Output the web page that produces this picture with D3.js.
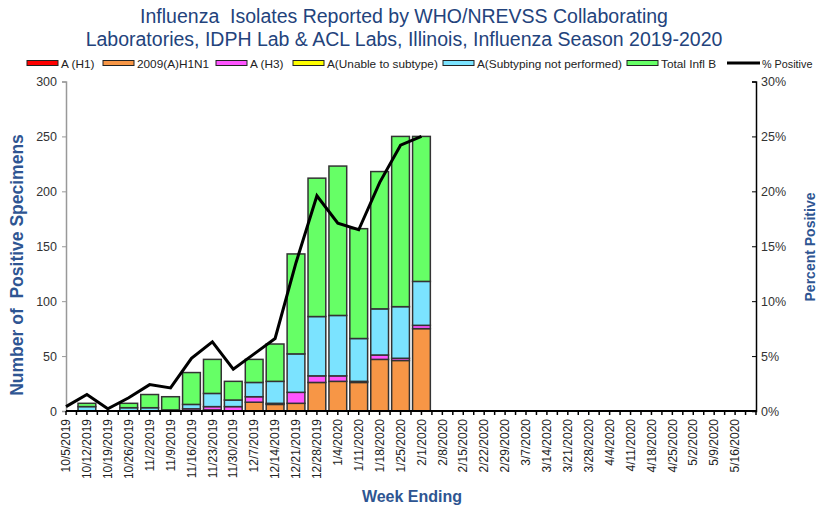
<!DOCTYPE html>
<html><head><meta charset="utf-8">
<script src="https://cdn.jsdelivr.net/npm/d3@7"></script>
<style>body{margin:0;background:#fff}svg{display:block;font-family:"Liberation Sans",Arial,sans-serif}text{white-space:pre}</style>
</head><body><svg id="c" width="817" height="508"></svg>
<script>
const weeks = ["10/5/2019","10/12/2019","10/19/2019","10/26/2019","11/2/2019","11/9/2019","11/16/2019","11/23/2019","11/30/2019","12/7/2019","12/14/2019","12/21/2019","12/28/2019","1/4/2020","1/11/2020","1/18/2020","1/25/2020","2/1/2020","2/8/2020","2/15/2020","2/22/2020","2/29/2020","3/7/2020","3/14/2020","3/21/2020","3/28/2020","4/4/2020","4/11/2020","4/18/2020","4/25/2020","5/2/2020","5/9/2020","5/16/2020"];
const aH1      = [0,0,0,0,0,0,0,0,0,0,0,0,0,0,0,0,0,0];
const aH1N1    = [0,0,0,0,0,0,0,1,0,8,6,7,26,27,26,47,46,75];
const aH3      = [0,0,0,0,0,0,2,3,4,5,1,10,6,5,1,4,2,3];
const aUnable  = [0,0,0,0,0,0,0,0,0,0,0,0,0,0,0,0,0,0];
const aNotPerf = [0,4,0,3,3,1,4,12,6,13,20,35,54,55,39,42,47,40];
const fluB     = [0,3,0,4,12,12,29,31,17,21,34,91,126,136,100,125,155,132];
const pctPositive = [0.4,1.5,0.2,1.2,2.4,2.1,4.8,6.3,3.8,5.2,6.6,13.5,19.6,17.1,16.5,20.8,24.2,25.0];
const leftTicks = [0,50,100,150,200,250,300];
const rightTicks = [0,5,10,15,20,25,30];

const seriesNames = ["A (H1)","2009(A)H1N1","A (H3)","A(Unable to subtype)","A(Subtyping not performed)","Total Infl B"];
const seriesData = [aH1,aH1N1,aH3,aUnable,aNotPerf,fluB];
const colors = ["#FF0000","#F79646","#FF55FF","#FFFF00","#7BE3FF","#66FF66"];

const svg = d3.select("#c");
const L=66, R=756, T=81.5, B=411;
const x = d3.scaleLinear().domain([0, weeks.length]).range([L, R]);
const y = d3.scaleLinear().domain([0,300]).range([B, T]);
const yp = d3.scaleLinear().domain([0,30]).range([B, T]);
const step = x(1)-x(0), bw = step*0.85;

// title
const title = svg.append("g").attr("fill","#23437C").attr("font-size",19.5).attr("text-anchor","middle");
title.append("text").attr("x",404).attr("y",23).text("Influenza  Isolates Reported by WHO/NREVSS Collaborating");
title.append("text").attr("x",404).attr("y",46).text("Laboratories, IDPH Lab & ACL Labs, Illinois, Influenza Season 2019-2020");

// legend
const legItems = [
 {n:seriesNames[0],c:colors[0],bx:27},
 {n:seriesNames[1],c:colors[1],bx:103},
 {n:seriesNames[2],c:colors[2],bx:216},
 {n:seriesNames[3],c:colors[3],bx:293},
 {n:seriesNames[4],c:colors[4],bx:443},
 {n:seriesNames[5],c:colors[5],bx:627}
];
const lg = svg.append("g");
legItems.forEach(d=>{
  lg.append("rect").attr("x",d.bx).attr("y",60.5).attr("width",31).attr("height",5).attr("fill",d.c).attr("stroke","#222").attr("stroke-width",1);
  lg.append("text").attr("x",d.bx+34).attr("y",67.5).attr("font-size",11.8).attr("fill","#222").text(d.n);
});
lg.append("line").attr("x1",727).attr("x2",760).attr("y1",63).attr("y2",63).attr("stroke","#000").attr("stroke-width",3);
lg.append("text").attr("x",762).attr("y",67.5).attr("font-size",10.8).attr("fill","#222").text("% Positive");

// stacked bars
const rows = fluB.map((_,i)=>{const r={i}; seriesData.forEach((s,k)=>r[k]=s[i]); return r;});
const stack = d3.stack().keys(d3.range(seriesData.length))(rows);
const gb = svg.append("g");
stack.forEach((layer,k)=>{
  gb.selectAll(null).data(layer.filter(d=>d[1]-d[0]>0)).enter().append("rect")
    .attr("x",d=>x(d.data.i)-bw/2).attr("width",bw)
    .attr("y",d=>y(d[1])).attr("height",d=>y(d[0])-y(d[1]))
    .attr("fill",colors[k]).attr("stroke","#333").attr("stroke-width",1.5);
});

// left axis
const la = svg.append("g").attr("transform",`translate(${L},0)`)
  .call(d3.axisLeft(y).tickValues(leftTicks).tickSize(4).tickPadding(5));
la.select(".domain").attr("stroke","#999").attr("stroke-width",1.5);
la.selectAll(".tick line").attr("stroke","#999");
la.selectAll("text").attr("font-size",12.5).attr("fill","#333").attr("font-family","Liberation Sans, Arial");

// right axis
const ra = svg.append("g").attr("transform",`translate(${R},0)`)
  .call(d3.axisRight(yp).tickValues(rightTicks).tickFormat(d=>d+"%").tickSize(-4).tickPadding(5));
ra.select(".domain").attr("stroke","#000").attr("stroke-width",1.5);
ra.selectAll(".tick line").attr("stroke","#000");
ra.selectAll("text").attr("font-size",12.5).attr("fill","#333").attr("font-family","Liberation Sans, Arial");

// bottom axis
const ba = svg.append("g");
ba.append("line").attr("x1",L).attr("x2",R).attr("y1",B).attr("y2",B).attr("stroke","#000").attr("stroke-width",2);
ba.selectAll(null).data(d3.range(0, weeks.length*2+1)).enter().append("line")
  .attr("x1",d=>x(d/2)).attr("x2",d=>x(d/2)).attr("y1",B).attr("y2",B+4).attr("stroke","#000").attr("stroke-width",1.5);
ba.selectAll(null).data(weeks).enter().append("text")
  .attr("transform",(d,i)=>`translate(${x(i)},419) rotate(-90)`)
  .attr("text-anchor","end").attr("dy","0.35em").attr("font-size",12).attr("fill","#222").text(d=>d);

// percent line
const line = d3.line().x((d,i)=>x(i)).y(d=>yp(d));
svg.append("path").attr("d",line(pctPositive)).attr("fill","none").attr("stroke","#000").attr("stroke-width",3).attr("stroke-linejoin","miter");

// axis titles
svg.append("text").attr("transform","translate(23,265) rotate(-90)").attr("text-anchor","middle")
  .attr("font-size",17.5).attr("font-weight","bold").attr("fill","#2E5592").text("Number of  Positive Specimens");
svg.append("text").attr("transform","translate(815,247) rotate(-90)").attr("text-anchor","middle")
  .attr("font-size",14).attr("font-weight","bold").attr("fill","#2E5592").text("Percent Positive");
svg.append("text").attr("x",412).attr("y",502).attr("text-anchor","middle")
  .attr("font-size",16).attr("font-weight","bold").attr("fill","#2E5592").text("Week Ending");
</script></body></html>
